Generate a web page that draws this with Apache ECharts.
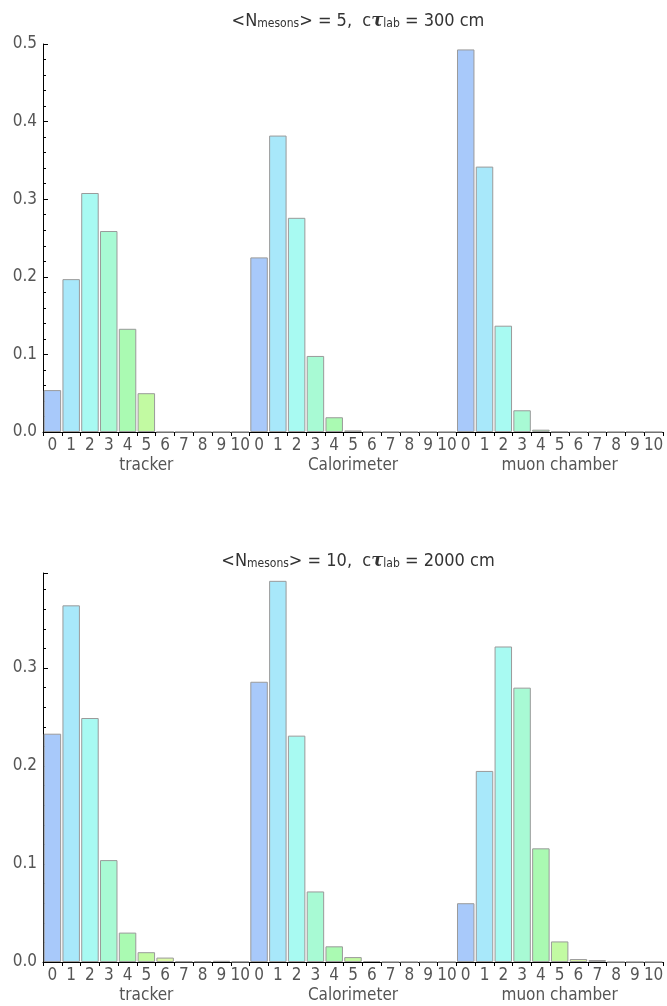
<!DOCTYPE html>
<html><head><meta charset="utf-8">
<script src="https://cdn.jsdelivr.net/npm/echarts@6/dist/echarts.min.js"></script>
<style>html,body{margin:0;padding:0;background:#fff}#c{width:667px;height:1006px}</style>
</head><body><div id="c"></div>
<script>
const tickLabels = ['0','1','2','3','4','5','6','7','8','9','10'];
const groups = ['tracker','Calorimeter','muon chamber'];

// Panel 1: <N_mesons> = 5, c tau_lab = 300 cm
const p1Tracker     = [0.054, 0.197, 0.308, 0.259, 0.133, 0.050, 0, 0, 0, 0, 0];
const p1Calorimeter = [0.225, 0.382, 0.276, 0.098, 0.019, 0.002, 0, 0, 0, 0, 0];
const p1Muon        = [0.493, 0.342, 0.137, 0.028, 0.003, 0.0004, 0, 0, 0, 0, 0];

// Panel 2: <N_mesons> = 10, c tau_lab = 2000 cm
const p2Tracker     = [0.233, 0.364, 0.249, 0.104, 0.030, 0.010, 0.0045, 0.0006, 0.0006, 0.0012, 0.0003];
const p2Calorimeter = [0.286, 0.389, 0.231, 0.072, 0.016, 0.005, 0.001, 0, 0, 0, 0];
const p2Muon        = [0.060, 0.195, 0.322, 0.280, 0.116, 0.021, 0.003, 0.002, 0, 0, 0];

const palette = ['#a8c9fa','#a8e8fa','#a8faf2','#a8fad4','#aafab2','#c2faa2','#dcfaa8','#eef8a4','#f8eaa4','#f8c8a4','#f8b4aa'];

const cats = [];
groups.forEach(g => tickLabels.forEach(t => cats.push(g + '|' + t)));

const font = 'DejaVu Sans Condensed';
const labelColor = '#555';

function panel(idx, top, height, max, data, title) {
  return {
    grid: {left: 43, right: 4, top: top, height: height},
    xAxes: [
      {type: 'category', gridIndex: idx, data: cats, position: 'bottom',
       axisLine: {lineStyle: {color: '#000', width: 1}},
       axisTick: {show: true, interval: 0, length: 4, lineStyle: {color: '#000'}},
       axisLabel: {interval: 0, margin: 5, color: labelColor, fontFamily: font, fontSize: 17,
         formatter: v => v.split('|')[1]}},
      {type: 'category', gridIndex: idx, data: groups, position: 'bottom', offset: 22,
       axisLine: {show: false}, axisTick: {show: false},
       axisLabel: {interval: 0, margin: 3, color: labelColor, fontFamily: font, fontSize: 17}}
    ],
    yAxis: {type: 'value', gridIndex: idx, min: 0, max: max, interval: 0.1,
      axisLine: {show: true, lineStyle: {color: '#000'}},
      axisTick: {show: true, inside: true, length: 5, lineStyle: {color: '#000'}},
      minorTick: {show: true, splitNumber: 5, length: 3, lineStyle: {color: '#000'}},
      splitLine: {show: false},
      axisLabel: {color: labelColor, fontFamily: font, fontSize: 17, margin: 6,
        formatter: v => (Math.abs(v*10 - Math.round(v*10)) < 1e-6) ? v.toFixed(1) : ''}},
    series: {type: 'bar', xAxisIndex: idx*2, yAxisIndex: idx,
      data: data, barCategoryGap: '7%',
      itemStyle: {color: p => palette[p.dataIndex % 11], borderColor: '#9a9a9a', borderWidth: 1}},
    title: title
  };
}

const sub = {fontFamily: font, fontSize: 12, color: '#333', fontWeight: 'normal', verticalAlign: 'bottom'};
const tau = {fontFamily: 'DejaVu Serif', fontSize: 18, fontStyle: 'italic', fontWeight: 'bold', color: '#333'};
const main = {fontFamily: font, fontSize: 18, color: '#333', fontWeight: 'normal'};
const pA = panel(0, 44, 388, 0.5, [...p1Tracker, ...p1Calorimeter, ...p1Muon],
  {text: '<N{s|mesons}> = 5,  c{t|τ}{s|lab} = 300 cm', left: 353, top: 7, textAlign: 'center',
   textStyle: {rich: {s: sub, t: tau}, ...main}});
const pB = panel(1, 573, 389, 0.397, [...p2Tracker, ...p2Calorimeter, ...p2Muon],
  {text: '<N{s|mesons}> = 10,  c{t|τ}{s|lab} = 2000 cm', left: 353, top: 547, textAlign: 'center',
   textStyle: {rich: {s: sub, t: tau}, ...main}});

const chart = echarts.init(document.getElementById('c'), null, {renderer: 'canvas'});
chart.setOption({
  animation: false,
  backgroundColor: '#fff',
  title: [pA.title, pB.title],
  grid: [pA.grid, pB.grid],
  xAxis: [...pA.xAxes, ...pB.xAxes],
  yAxis: [pA.yAxis, pB.yAxis],
  series: [pA.series, pB.series]
});
</script></body></html>
